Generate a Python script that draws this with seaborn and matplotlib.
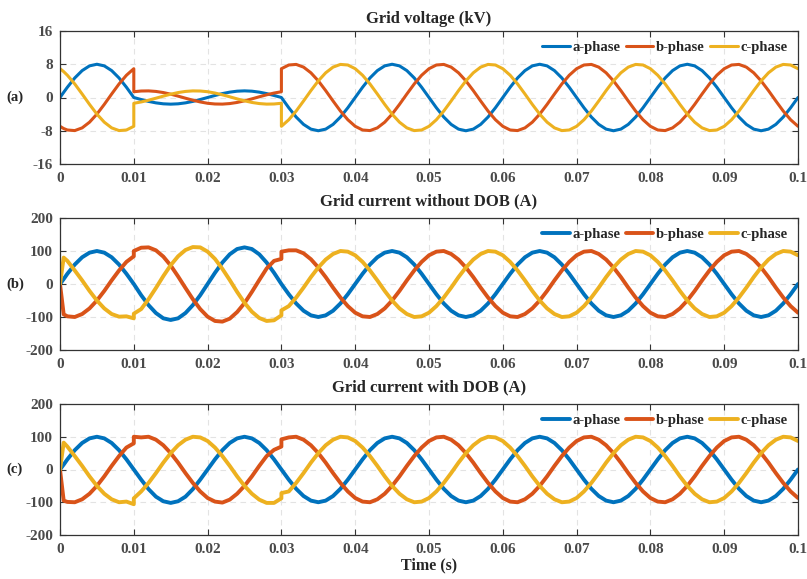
#! /usr/bin/env python

import numpy as np
import pandas as pd
import matplotlib
matplotlib.use("Agg")
import matplotlib.pyplot as plt
import seaborn as sns


# sample times in ms; 10 ms and 30 ms appear twice (value before / after the step)
time_ms = [0, 0.5] + list(range(1, 11)) + list(range(10, 31)) + list(range(30, 101))
time_s = np.array(time_ms) / 1000.0

phases = ["a-phase", "b-phase", "c-phase"]
phase_colors = ["#0072BD", "#D95319", "#EDB120"]
x_ticks = [0, 0.01, 0.02, 0.03, 0.04, 0.05, 0.06, 0.07, 0.08, 0.09, 0.1]
x_tick_labels = ["0", "0.01", "0.02", "0.03", "0.04", "0.05", "0.06", "0.07", "0.08", "0.09", "0.1"]
volt_ticks = [-16, -8, 0, 8, 16]
curr_ticks = [-200, -100, 0, 100, 200]

# (a) grid voltage, kV
volt_a = [
    0, 1.25, 2.47, 4.70, 6.47, 7.61, 8.0, 7.61, 6.47, 4.70, 2.47, 0,
    0, -0.49, -0.94, -1.29, -1.52, -1.6, -1.52, -1.29, -0.94, -0.49,
    0, 0.49, 0.94, 1.29, 1.52, 1.6, 1.52, 1.29, 0.94, 0.49, 0,
    0, -2.47, -4.70, -6.47, -7.61, -8.0, -7.61, -6.47, -4.70, -2.47,
    0, 2.47, 4.70, 6.47, 7.61, 8.0, 7.61, 6.47, 4.70, 2.47,
    0, -2.47, -4.70, -6.47, -7.61, -8.0, -7.61, -6.47, -4.70, -2.47,
    0, 2.47, 4.70, 6.47, 7.61, 8.0, 7.61, 6.47, 4.70, 2.47,
    0, -2.47, -4.70, -6.47, -7.61, -8.0, -7.61, -6.47, -4.70, -2.47,
    0, 2.47, 4.70, 6.47, 7.61, 8.0, 7.61, 6.47, 4.70, 2.47,
    0, -2.47, -4.70, -6.47, -7.61, -8.0, -7.61, -6.47, -4.70, -2.47,
    0,
]
volt_b = [
    -6.93, -7.47, -7.82, -7.96, -7.31, -5.94, -4.0, -1.66, 0.84, 3.26, 5.35, 6.93,
    1.39, 1.56, 1.59, 1.46, 1.19, 0.8, 0.33, -0.17, -0.65, -1.07,
    -1.39, -1.56, -1.59, -1.46, -1.19, -0.8, -0.33, 0.17, 0.65, 1.07, 1.39,
    6.93, 7.82, 7.96, 7.31, 5.94, 4.0, 1.66, -0.84, -3.26, -5.35,
    -6.93, -7.82, -7.96, -7.31, -5.94, -4.0, -1.66, 0.84, 3.26, 5.35,
    6.93, 7.82, 7.96, 7.31, 5.94, 4.0, 1.66, -0.84, -3.26, -5.35,
    -6.93, -7.82, -7.96, -7.31, -5.94, -4.0, -1.66, 0.84, 3.26, 5.35,
    6.93, 7.82, 7.96, 7.31, 5.94, 4.0, 1.66, -0.84, -3.26, -5.35,
    -6.93, -7.82, -7.96, -7.31, -5.94, -4.0, -1.66, 0.84, 3.26, 5.35,
    6.93, 7.82, 7.96, 7.31, 5.94, 4.0, 1.66, -0.84, -3.26, -5.35,
    -6.93,
]
volt_c = [
    6.93, 6.22, 5.35, 3.26, 0.84, -1.66, -4.0, -5.94, -7.31, -7.96, -7.82, -6.93,
    -1.39, -1.07, -0.65, -0.17, 0.33, 0.8, 1.19, 1.46, 1.59, 1.56,
    1.39, 1.07, 0.65, 0.17, -0.33, -0.8, -1.19, -1.46, -1.59, -1.56, -1.39,
    -6.93, -5.35, -3.26, -0.84, 1.66, 4.0, 5.94, 7.31, 7.96, 7.82,
    6.93, 5.35, 3.26, 0.84, -1.66, -4.0, -5.94, -7.31, -7.96, -7.82,
    -6.93, -5.35, -3.26, -0.84, 1.66, 4.0, 5.94, 7.31, 7.96, 7.82,
    6.93, 5.35, 3.26, 0.84, -1.66, -4.0, -5.94, -7.31, -7.96, -7.82,
    -6.93, -5.35, -3.26, -0.84, 1.66, 4.0, 5.94, 7.31, 7.96, 7.82,
    6.93, 5.35, 3.26, 0.84, -1.66, -4.0, -5.94, -7.31, -7.96, -7.82,
    -6.93, -5.35, -3.26, -0.84, 1.66, 4.0, 5.94, 7.31, 7.96, 7.82,
    6.93,
]

# (b) grid current without DOB, A
nodob_a = [
    0, 15, 31, 59, 81, 95, 100, 95, 81, 59, 31, 0,
    0, -34, -64, -88, -104, -109, -104, -88, -64, -34,
    0, 34, 65, 90, 106, 111, 106, 90, 65, 34, 0,
    0, -31, -59, -81, -95, -100, -95, -81, -59, -31,
    0, 31, 59, 81, 95, 100, 95, 81, 59, 31,
    0, -31, -59, -81, -95, -100, -95, -81, -59, -31,
    0, 31, 59, 81, 95, 100, 95, 81, 59, 31,
    0, -31, -59, -81, -95, -100, -95, -81, -59, -31,
    0, 31, 59, 81, 95, 100, 95, 81, 59, 31,
    0, -31, -59, -81, -95, -100, -95, -81, -59, -31,
    0,
]
nodob_b = [
    0, -92, -98, -100, -91, -74, -50, -21, 11, 41, 67, 84,
    100, 110, 111, 102, 83, 56, 23, -12, -46, -76,
    -99, -112, -114, -105, -85, -58, -24, 12, 47, 70, 76,
    98, 102, 102, 93, 75, 50, 21, -11, -41, -67,
    -87, -98, -100, -91, -74, -50, -21, 11, 41, 67,
    87, 98, 100, 91, 74, 50, 21, -11, -41, -67,
    -87, -98, -100, -91, -74, -50, -21, 11, 41, 67,
    87, 98, 100, 91, 74, 50, 21, -11, -41, -67,
    -87, -98, -100, -91, -74, -50, -21, 11, 41, 67,
    87, 98, 100, 91, 74, 50, 21, -11, -41, -67,
    -87,
]
nodob_c = [
    0, 80, 70, 41, 11, -21, -50, -74, -91, -99, -98, -104,
    -90, -76, -46, -12, 24, 57, 84, 103, 112, 111,
    98, 76, 46, 12, -24, -57, -84, -103, -112, -110, -95,
    -80, -67, -41, -11, 21, 50, 74, 91, 100, 98,
    87, 67, 41, 11, -21, -50, -74, -91, -100, -98,
    -87, -67, -41, -11, 21, 50, 74, 91, 100, 98,
    87, 67, 41, 11, -21, -50, -74, -91, -100, -98,
    -87, -67, -41, -11, 21, 50, 74, 91, 100, 98,
    87, 67, 41, 11, -21, -50, -74, -91, -100, -98,
    -87, -67, -41, -11, 21, 50, 74, 91, 100, 98,
    87,
]

# (c) grid current with DOB, A
dob_a = [
    0, 15, 31, 59, 81, 95, 100, 95, 81, 59, 31, 0,
    0, -31, -60, -83, -97, -102, -97, -83, -60, -31,
    0, 31, 59, 81, 95, 100, 95, 81, 59, 31, 0,
    0, -31, -59, -81, -95, -100, -95, -81, -59, -31,
    0, 31, 59, 81, 95, 100, 95, 81, 59, 31,
    0, -31, -59, -81, -95, -100, -95, -81, -59, -31,
    0, 31, 59, 81, 95, 100, 95, 81, 59, 31,
    0, -31, -59, -81, -95, -100, -95, -81, -59, -31,
    0, 31, 59, 81, 95, 100, 95, 81, 59, 31,
    0, -31, -59, -81, -95, -100, -95, -81, -59, -31,
    0,
]
dob_b = [
    0, -95, -99, -100, -91, -74, -50, -21, 11, 41, 67, 80,
    100, 98, 100, 91, 74, 50, 21, -11, -41, -67,
    -87, -98, -101, -92, -74, -50, -21, 11, 41, 60, 70,
    92, 98, 100, 91, 74, 50, 21, -11, -41, -67,
    -87, -98, -100, -91, -74, -50, -21, 11, 41, 67,
    87, 98, 100, 91, 74, 50, 21, -11, -41, -67,
    -87, -98, -100, -91, -74, -50, -21, 11, 41, 67,
    87, 98, 100, 91, 74, 50, 21, -11, -41, -67,
    -87, -98, -100, -91, -74, -50, -21, 11, 41, 67,
    87, 98, 100, 91, 74, 50, 21, -11, -41, -67,
    -87,
]
dob_c = [
    0, 82, 70, 41, 11, -21, -50, -74, -91, -100, -98, -106,
    -88, -67, -41, -11, 21, 50, 74, 91, 100, 98,
    87, 67, 41, 11, -21, -50, -74, -92, -102, -102, -88,
    -72, -67, -41, -11, 21, 50, 74, 91, 100, 98,
    87, 67, 41, 11, -21, -50, -74, -91, -100, -98,
    -87, -67, -41, -11, 21, 50, 74, 91, 100, 98,
    87, 67, 41, 11, -21, -50, -74, -91, -100, -98,
    -87, -67, -41, -11, 21, 50, 74, 91, 100, 98,
    87, 67, 41, 11, -21, -50, -74, -91, -100, -98,
    -87, -67, -41, -11, 21, 50, 74, 91, 100, 98,
    87,
]


def phase_frame(a_vals, b_vals, c_vals):
    return pd.DataFrame({
        "time": np.tile(time_s, 3),
        "value": np.concatenate([a_vals, b_vals, c_vals]),
        "phase": np.repeat(phases, len(time_s)),
    })


def plot_panel(ax, df, title, tag, yticks, lw, title_pad):
    sns.lineplot(data = df, x = "time", y = "value", hue = "phase",
            palette = phase_colors, estimator = None, sort = False,
            linewidth = lw, ax = ax)
    ax.set_xlim(0, 0.1)
    ax.set_ylim(yticks[0], yticks[-1])
    ax.set_xticks(x_ticks)
    ax.set_xticklabels(x_tick_labels)
    ax.set_yticks(yticks)
    ax.set_yticklabels([str(v) for v in yticks])
    ax.tick_params(direction = "in", top = True, right = True, length = 4,
            width = 0.8, colors = "#333333", labelcolor = "#4a4a4a",
            labelsize = 11)
    ax.tick_params(axis = "x", pad = 6)
    ax.tick_params(axis = "y", pad = 5)
    ax.grid(True, linestyle = (0, (5, 4)), color = "#e3e3e3", linewidth = 0.8)
    for sp in ax.spines.values():
        sp.set_color("#333333")
        sp.set_linewidth(0.9)
    ax.set_title(title, fontsize = 12, fontweight = "bold", pad = title_pad)
    ax.set_xlabel("")
    ax.set_ylabel(tag, rotation = 0, fontsize = 10.5, fontweight = "bold",
            va = "center", ha = "center")
    ax.yaxis.set_label_coords(-0.061, 0.5)
    handles, labels = ax.get_legend_handles_labels()
    ax.legend(handles, labels, loc = "upper right", ncol = 3, frameon = False,
            handlelength = 1.9, handletextpad = 0.2, columnspacing = 0.35,
            borderaxespad = 0.3, prop = {"weight": "bold", "size": 10.5})


def main():
    sns.set_theme(style = "ticks")
    plt.rcParams["font.family"] = ["Liberation Serif", "DejaVu Serif"]
    plt.rcParams["font.weight"] = "bold"

    fig = plt.figure(figsize = (8.07, 5.79), dpi = 100)
    left, width = 60 / 807, 738 / 807
    ax_a = fig.add_axes([left, 1 - 164 / 579, width, 133 / 579])
    ax_b = fig.add_axes([left, 1 - 350 / 579, width, 132 / 579])
    ax_c = fig.add_axes([left, 1 - 535 / 579, width, 131 / 579])

    plot_panel(ax_a, phase_frame(volt_a, volt_b, volt_c),
            "Grid voltage (kV)", "(a)", volt_ticks, 2.2, 6)
    plot_panel(ax_b, phase_frame(nodob_a, nodob_b, nodob_c),
            "Grid current without DOB (A)", "(b)", curr_ticks, 2.8, 9)
    plot_panel(ax_c, phase_frame(dob_a, dob_b, dob_c),
            "Grid current with DOB (A)", "(c)", curr_ticks, 2.8, 9)

    ax_c.set_xlabel("Time (s)", fontsize = 11.5, fontweight = "bold", labelpad = 1)

    fig.savefig("out.png", dpi = 100)
    plt.close(fig)


if __name__ == '__main__':
    main()
